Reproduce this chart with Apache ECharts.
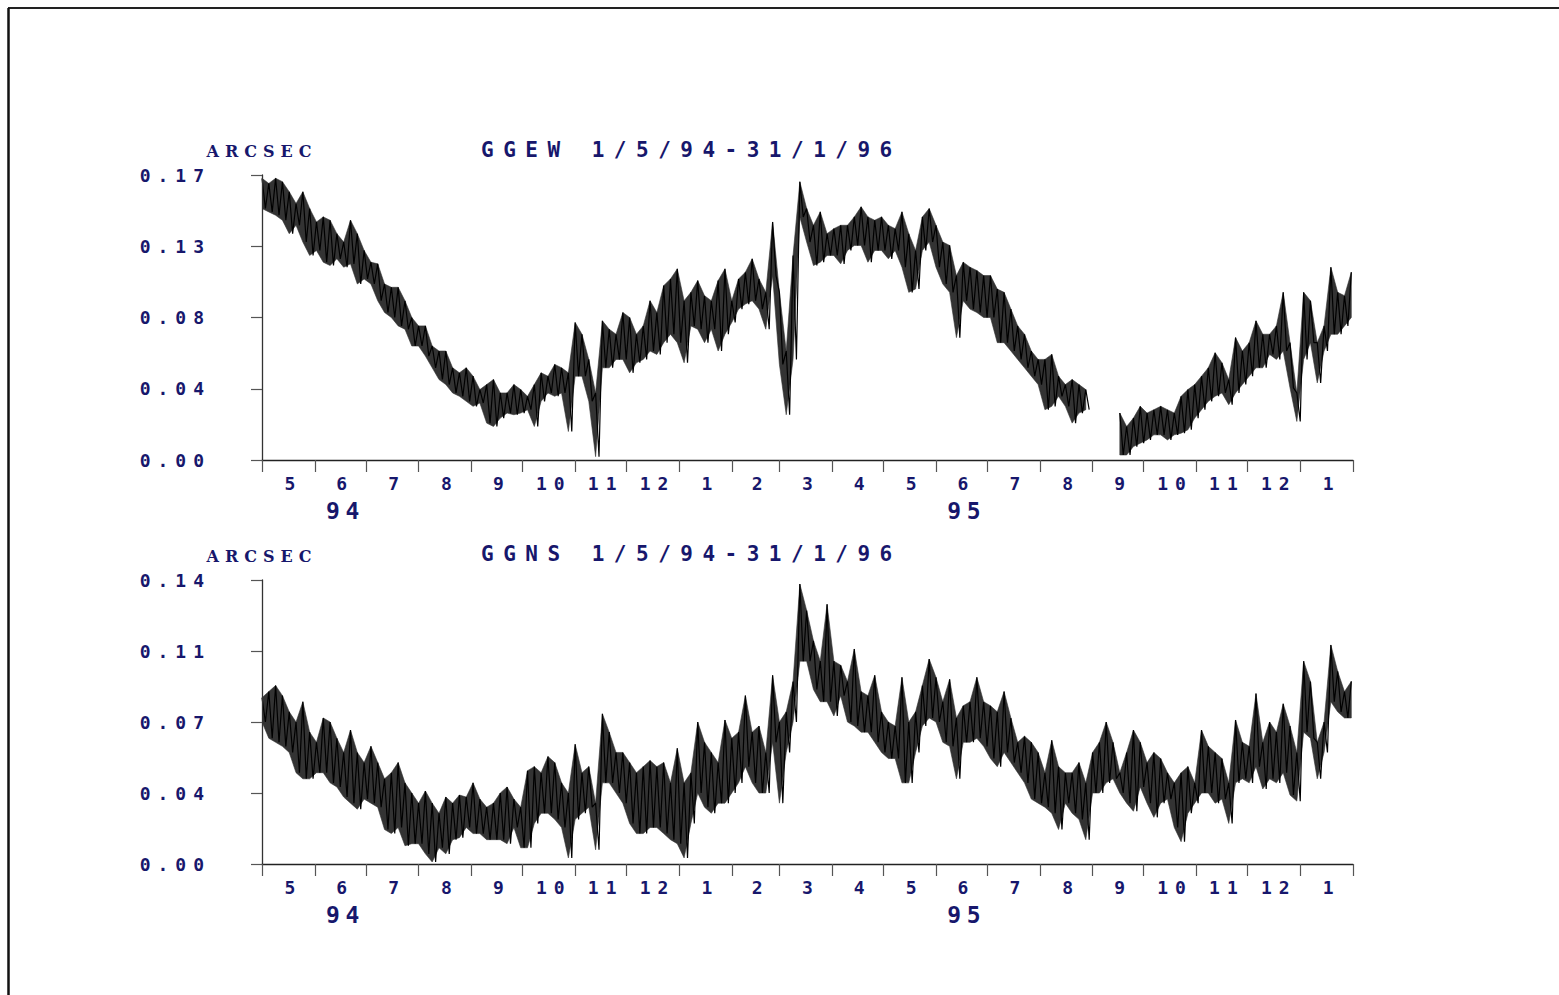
<!DOCTYPE html>
<html>
<head>
<meta charset="utf-8">
<script src="https://cdn.jsdelivr.net/npm/echarts@6/dist/echarts.min.js"></script>
<style>
html,body{margin:0;padding:0;background:#fff;}
#c{width:1559px;height:995px;}
#c svg text{letter-spacing:7px;}
</style>
</head>
<body>
<div id="c"></div>
<script>
// ---- data ----
const monthLengths = [31,30,31,31,30,31,30,31, 31,28,31,30,31,30,31,31,30,31,30,31, 31];
const monthLabels  = ['5','6','7','8','9','10','11','12','1','2','3','4','5','6','7','8','9','10','11','12','1'];
const yearLabels   = ['94','95'];
const ewTickLabels = ['0.00','0.04','0.08','0.13','0.17'];
const nsTickLabels = ['0.00','0.04','0.07','0.11','0.14'];
const ewTitle = 'GGEW 1/5/94-31/1/96';
const nsTitle = 'GGNS 1/5/94-31/1/96';
const unitName = 'ARCSEC';
const sampleStepDays = 4; // one high and one low reading every 4 days, from 1/5/94

const ewHigh = [.168,.165,.168,.166,.160,.153,.160,.150,.142,.145,.143,.135,.130,.143,.135,.125,.118,.117,.105,.103,
  .103,.095,.085,.080,.080,.068,.065,.065,.055,.052,.055,.050,.042,.045,.048,.040,.040,.045,.042,.038,
  .045,.052,.050,.057,.055,.052,.082,.075,.060,.040,.083,.078,.075,.088,.085,.075,.080,.095,.088,.104,
  .108,.114,.095,.100,.107,.098,.095,.107,.114,.095,.108,.112,.120,.108,.100,.142,.100,.065,.122,.166,
  .150,.140,.148,.135,.138,.140,.140,.145,.151,.145,.143,.145,.140,.138,.148,.135,.125,.145,.150,.140,
  .130,.128,.110,.118,.115,.113,.110,.110,.102,.100,.090,.080,.075,.065,.060,.060,.063,.050,.045,.048,
  .045,.042,null,null,null,null,.028,.020,.025,.032,.028,.030,.032,.030,.028,.038,.042,.045,.050,.055,
  .064,.058,.048,.073,.065,.070,.083,.075,.075,.080,.100,.070,.040,.100,.095,.070,.080,.115,.100,.098,.112];
const ewLow = [.150,.148,.146,.143,.135,.140,.130,.122,.125,.118,.116,.120,.115,.117,.105,.108,.105,.095,.088,.085,
  .080,.078,.068,.068,.062,.055,.048,.045,.040,.038,.035,.032,.034,.022,.020,.025,.028,.027,.028,.030,
  .020,.035,.040,.038,.040,.017,.050,.050,.035,.002,.055,.055,.060,.060,.052,.058,.060,.065,.063,.070,
  .075,.070,.058,.080,.078,.070,.078,.065,.075,.082,.090,.093,.095,.090,.078,.110,.057,.027,.060,.145,
  .130,.116,.118,.122,.122,.117,.125,.128,.128,.118,.125,.125,.120,.125,.115,.100,.102,.125,.130,.115,
  .105,.100,.073,.095,.090,.088,.085,.085,.070,.070,.065,.060,.055,.050,.045,.030,.032,.038,.032,.022,
  .028,.030,null,null,null,null,.003,.003,.008,.010,.012,.015,.015,.012,.015,.016,.018,.025,.030,.035,
  .038,.040,.033,.040,.045,.050,.055,.055,.063,.060,.065,.043,.023,.060,.070,.046,.065,.075,.075,.080,.085];

const nsHigh = [.082,.085,.088,.083,.075,.070,.080,.065,.060,.072,.070,.062,.055,.066,.055,.050,.058,.050,.042,.045,
  .050,.040,.035,.030,.036,.030,.025,.033,.030,.034,.033,.040,.032,.028,.030,.035,.038,.032,.028,.046,
  .048,.045,.053,.050,.040,.035,.059,.045,.048,.030,.074,.065,.055,.055,.050,.045,.048,.051,.048,.050,
  .040,.057,.040,.045,.070,.060,.055,.050,.071,.062,.065,.083,.065,.068,.055,.093,.070,.075,.090,.138,
  .125,.110,.100,.128,.100,.098,.090,.106,.085,.083,.093,.075,.070,.068,.092,.070,.075,.088,.101,.092,
  .080,.091,.072,.078,.080,.092,.080,.078,.075,.085,.072,.060,.063,.060,.055,.045,.061,.048,.045,.045,
  .050,.040,.055,.060,.070,.060,.045,.055,.066,.060,.050,.055,.052,.045,.040,.045,.048,.040,.066,.058,
  .055,.052,.040,.071,.060,.058,.084,.060,.070,.065,.079,.068,.055,.100,.090,.060,.070,.108,.095,.085,.090];
const nsLow = [.070,.062,.060,.058,.055,.045,.042,.042,.045,.045,.040,.038,.033,.030,.027,.032,.030,.028,.017,.015,
  .018,.009,.010,.010,.005,.001,.008,.005,.012,.013,.018,.015,.015,.012,.012,.012,.010,.018,.008,.008,
  .020,.025,.025,.022,.018,.003,.022,.025,.028,.007,.040,.040,.035,.030,.020,.015,.015,.018,.018,.015,
  .012,.010,.003,.020,.035,.028,.025,.030,.030,.035,.040,.048,.040,.035,.035,.060,.030,.055,.070,.100,
  .100,.086,.080,.080,.073,.083,.070,.068,.065,.065,.060,.055,.052,.052,.040,.040,.055,.068,.072,.070,
  .060,.058,.042,.060,.060,.062,.058,.052,.048,.055,.050,.045,.040,.032,.030,.028,.025,.017,.030,.025,
  .022,.012,.035,.035,.040,.042,.035,.030,.026,.038,.030,.023,.030,.032,.018,.011,.025,.030,.035,.035,
  .030,.032,.020,.040,.042,.040,.048,.037,.042,.040,.045,.034,.031,.065,.062,.042,.055,.080,.075,.072,.072];

// ---- derived axis helpers ----
const monthStarts = [0];
monthLengths.forEach(l => monthStarts.push(monthStarts[monthStarts.length - 1] + l));
const totalDays = monthStarts[monthStarts.length - 1];
const monthMids = monthLengths.map((l, i) => monthStarts[i] + l / 2);
const yearLabelDays = [49, 414]; // where the year captions sit under the axis

function zigzag(hi, lo) {
  const out = [];
  for (let i = 0; i < hi.length; i++) {
    const d = i * sampleStepDays;
    out.push([d, hi[i]]);
    const d2 = d + sampleStepDays / 2;
    if (d2 <= totalDays) out.push([d2, lo[i]]);
  }
  return out;
}

const NAVY = '#17176c';
const MONO = "'DejaVu Sans Mono', monospace";
const SERIF = "'DejaVu Serif', serif";

function panel(idx, top, height, maxV, tickLabels) {
  const interval = maxV / 4;
  const grid = {left: 262, top: top, width: 1091, height: height, containLabel: false};
  const xMonths = {
    gridIndex: idx, type: 'value', min: 0, max: totalDays, position: 'bottom', z: 10,
    axisLine: {show: true, onZero: false, lineStyle: {color: '#222', width: 1.3}},
    axisTick: {show: true, inside: false, length: 12, customValues: monthStarts, lineStyle: {color: '#555', width: 1.2}},
    axisLabel: {show: true, customValues: monthMids, margin: 14, padding: [0, 0, 0, 10],
      formatter: v => monthLabels[monthMids.indexOf(v)],
      color: NAVY, fontFamily: MONO, fontWeight: 'bold', fontSize: 18},
    splitLine: {show: false}
  };
  const xYears = {
    gridIndex: idx, type: 'value', min: 0, max: totalDays, position: 'bottom', z: 10,
    axisLine: {show: false}, axisTick: {show: false},
    axisLabel: {show: true, customValues: yearLabelDays, margin: 39,
      formatter: v => yearLabels[yearLabelDays.indexOf(v)],
      color: NAVY, fontFamily: MONO, fontWeight: 'bold', fontSize: 23},
    splitLine: {show: false}
  };
  const y = {
    gridIndex: idx, type: 'value', min: 0, max: maxV, interval: interval, z: 10,
    name: unitName, nameLocation: 'end', nameGap: 24,
    nameTextStyle: {color: NAVY, fontFamily: SERIF, fontWeight: 'bold', fontSize: 16, align: 'center', verticalAlign: 'middle'},
    axisLine: {show: true, lineStyle: {color: '#333', width: 1.3}},
    axisTick: {show: true, inside: false, length: 11, lineStyle: {color: '#555', width: 1.2}},
    axisLabel: {margin: 51, color: NAVY, fontFamily: MONO, fontWeight: 'bold', fontSize: 18,
      formatter: v => tickLabels[Math.round(v / interval)]},
    splitLine: {show: false}
  };
  return {grid, xMonths, xYears, y};
}

const p1 = panel(0, 175, 285, 0.17, ewTickLabels);
const p2 = panel(1, 580, 284, 0.14, nsTickLabels);

const titleStyle = {color: NAVY, fontFamily: MONO, fontWeight: 'bold', fontSize: 21};

function seriesFor(name, xi, yi, hi, lo) {
  return [
    // ink band between the high and low readings, drawn through the axes' scales
    {type: 'custom', name: name + ' band', xAxisIndex: xi, yAxisIndex: yi, data: [[0, 0]], z: 1,
     silent: true, clip: true,
     renderItem: function (params, api) {
       const children = [];
       let seg = [];
       const flush = () => {
         if (seg.length > 1) {
           const top = seg.map(s => api.coord([s[0], s[1]]));
           const bot = seg.slice().reverse().map(s => api.coord([s[0], s[2]]));
           children.push({type: 'polygon', shape: {points: top.concat(bot)},
                          style: {fill: '#333', stroke: '#333', lineWidth: 0.6}});
         }
         seg = [];
       };
       hi.forEach((v, i) => {
         if (v == null || lo[i] == null) flush();
         else seg.push([i * sampleStepDays, v, lo[i]]);
       });
       flush();
       return {type: 'group', children: children};
     }},
    {type: 'line', name: name, xAxisIndex: xi, yAxisIndex: yi, data: zigzag(hi, lo), z: 3,
     symbol: 'none', connectNulls: false, lineStyle: {color: '#000', width: 1.2}}
  ];
}

const option = {
  animation: false,
  backgroundColor: '#fff',
  title: [
    {text: ewTitle, left: 481, top: 139, padding: 0, textStyle: titleStyle},
    {text: nsTitle, left: 481, top: 543, padding: 0, textStyle: titleStyle}
  ],
  grid: [p1.grid, p2.grid],
  xAxis: [p1.xMonths, p1.xYears, p2.xMonths, p2.xYears],
  yAxis: [p1.y, p2.y],
  series: [].concat(seriesFor('GGEW', 0, 0, ewHigh, ewLow), seriesFor('GGNS', 2, 1, nsHigh, nsLow)),
  graphic: [
    {type: 'line', shape: {x1: 8, y1: 8, x2: 1559, y2: 8}, style: {stroke: '#222', lineWidth: 2}, silent: true},
    {type: 'line', shape: {x1: 8.5, y1: 8, x2: 8.5, y2: 995}, style: {stroke: '#111', lineWidth: 2.5}, silent: true}
  ]
};

const chart = echarts.init(document.getElementById('c'), null, {renderer: 'svg'});
chart.setOption(option);

function spaceLetters() {
  document.querySelectorAll('#c svg text').forEach(t => {
    const fs = parseFloat(getComputedStyle(t).fontSize);
    let ls = 7;
    if (fs >= 20.5 && fs < 22) ls = 9.5;
    else if (fs >= 22) ls = 5.5;
    else if (fs < 17) ls = 6;
    t.style.letterSpacing = ls + 'px';
  });
}
spaceLetters();
chart.on('finished', spaceLetters);
setTimeout(spaceLetters, 50);
</script>
</body>
</html>
